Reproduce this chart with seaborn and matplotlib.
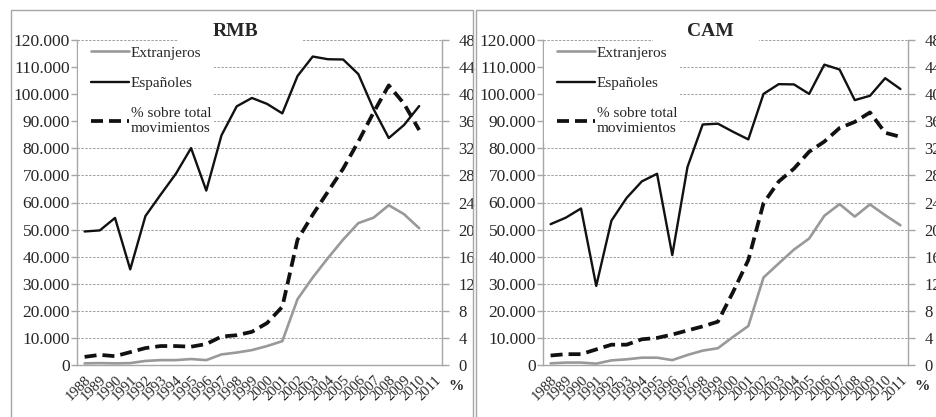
import matplotlib
matplotlib.use('Agg')
import matplotlib.pyplot as plt
from matplotlib.patches import Rectangle
from matplotlib.ticker import FuncFormatter, MultipleLocator
import numpy as np
import pandas as pd
import seaborn as sns

W, H = 936, 417

years = [1988, 1989, 1990, 1991, 1992, 1993, 1994, 1995, 1996, 1997, 1998, 1999,
         2000, 2001, 2002, 2003, 2004, 2005, 2006, 2007, 2008, 2009, 2010, 2011]

# RMB: no data for 2011
rmb_extranjeros = [600, 700, 600, 700, 1500, 1800, 1800, 2200, 1800, 3900, 4600, 5500,
                   7000, 8800, 24300, 32300, 39500, 46300, 52400, 54400, 59000, 55700, 50500]
rmb_espanoles = [49300, 49700, 54300, 35300, 55000, 62900, 70600, 80100, 64400, 84800, 95500, 98600,
                 96400, 92900, 106700, 113900, 112900, 112800, 107400, 94500, 83800, 88600, 95600]
rmb_pct = [1.2, 1.5, 1.3, 1.9, 2.5, 2.8, 2.8, 2.7, 3.1, 4.2, 4.4, 4.9,
           6.2, 8.6, 18.5, 22.2, 25.6, 29.0, 33.0, 37.3, 41.3, 38.6, 34.7]

cam_extranjeros = [600, 900, 900, 500, 1700, 2100, 2700, 2700, 1800, 3700, 5300, 6200,
                   10400, 14400, 32300, 37500, 42600, 46700, 55100, 59400, 54800, 59300, 55300, 51600]
cam_espanoles = [52000, 54400, 57800, 29200, 53300, 61700, 67800, 70600, 40600, 73100, 88800, 89100,
                 86100, 83300, 100100, 103700, 103600, 100100, 110900, 109100, 97800, 99400, 105900, 101900]
cam_pct = [1.4, 1.6, 1.6, 2.3, 3.0, 3.0, 3.8, 4.0, 4.5, 5.1, 5.7, 6.4,
           10.8, 15.5, 23.9, 27.1, 29.0, 31.5, 33.0, 35.0, 35.9, 37.3, 34.3, 33.7]

GRAY_AXIS = '#a6a6a6'
GRAY_LINE = '#999999'
TEXT = '#262626'


def fx(x):
    return x / W


def fy(y):
    return 1 - y / H


def thousands(v, _):
    return f'{int(round(v)):,}'.replace(',', '.')


def draw_panel(fig, left_px, title, title_x, title_box, ext, esp, pct):
    ax = fig.add_axes([fx(left_px), fy(365), 365 / W, 325 / H])
    ax2 = ax.twinx()

    n = len(ext)
    df = pd.DataFrame({'year': years[:n], 'ext': ext, 'esp': esp, 'pct': pct})

    sns.lineplot(data=df, x='year', y='ext', ax=ax, color=GRAY_LINE, linewidth=1.9,
                 label='Extranjeros', legend=False)
    sns.lineplot(data=df, x='year', y='esp', ax=ax, color='#111111', linewidth=1.7,
                 label='Españoles', legend=False)
    sns.lineplot(data=df, x='year', y='pct', ax=ax2, color='#111111', linewidth=2.7,
                 linestyle=(0, (3.2, 1.6)), label='% sobre total\nmovimientos', legend=False)

    ax.set_xlim(1987.5, 2011.5)
    ax.set_ylim(0, 120000)
    ax2.set_ylim(0, 48)
    ax.yaxis.set_major_locator(MultipleLocator(10000))
    ax.yaxis.set_major_formatter(FuncFormatter(thousands))
    ax2.yaxis.set_major_locator(MultipleLocator(4))

    ax.set_xticks(np.arange(1987.5, 2012, 1))
    ax.set_xticks(years, [str(y) for y in years], minor=True)
    ax.tick_params(axis='x', which='major', length=5, width=1, color=GRAY_AXIS,
                   direction='out', labelbottom=False)
    ax.tick_params(axis='x', which='minor', length=0, pad=6, labelsize=10.5, labelcolor=TEXT)
    for lab in ax.get_xticklabels(minor=True):
        lab.set_rotation(45)
        lab.set_ha('right')
        lab.set_va('top')
        lab.set_rotation_mode('anchor')

    ax.tick_params(axis='y', length=4, width=1, color=GRAY_AXIS, direction='out',
                   pad=1, labelsize=12.5, labelcolor=TEXT)
    ax2.tick_params(axis='y', length=5, width=1, color=GRAY_AXIS, direction='out',
                    pad=7, labelsize=12, labelcolor=TEXT)

    ax.set_xlabel('')
    ax.set_ylabel('')
    ax2.set_ylabel('')

    ax.grid(False)
    ax2.grid(False)
    ax.yaxis.grid(True, color='#a0a0a0', linestyle=(0, (2.5, 1.5)), linewidth=0.7)
    ax.set_axisbelow(True)

    for side in ['top', 'right']:
        ax.spines[side].set_visible(False)
    for side in ['left', 'bottom']:
        ax.spines[side].set_color(GRAY_AXIS)
        ax.spines[side].set_linewidth(1)
    for side in ['top', 'left', 'bottom']:
        ax2.spines[side].set_visible(False)
    ax2.spines['right'].set_color(GRAY_AXIS)
    ax2.spines['right'].set_linewidth(1)

    # white boxes behind the legend and the title, as in the spreadsheet chart
    fig.add_artist(Rectangle((fx(left_px + 0.5), fy(143)), 136 / W, 99 / H,
                             transform=fig.transFigure, facecolor='white',
                             edgecolor='none', zorder=2))
    bx0, bx1 = title_box
    fig.add_artist(Rectangle((fx(bx0), fy(47)), (bx1 - bx0) / W, 27 / H,
                             transform=fig.transFigure, facecolor='white',
                             edgecolor='none', zorder=2))

    h1, l1 = ax.get_legend_handles_labels()
    h2, l2 = ax2.get_legend_handles_labels()
    fig.legend(h1 + h2, l1 + l2, loc='upper left',
               bbox_to_anchor=(fx(left_px + 11), fy(43)), bbox_transform=fig.transFigure,
               borderaxespad=0, borderpad=0.2, handlelength=2.5, handletextpad=0.1,
               labelspacing=1.1, fontsize=11, frameon=False, labelcolor=TEXT)

    fig.text(fx(title_x), fy(32), title, ha='center', va='center', fontsize=14,
             fontweight='bold', color=TEXT, zorder=3)
    fig.text(fx(left_px + 379), fy(387), '%', ha='center', va='center', fontsize=11,
             fontweight='bold', color=TEXT)
    return ax, ax2


sns.set_style('white')
plt.rcParams['font.family'] = ['Liberation Serif', 'DejaVu Serif']

fig = plt.figure(figsize=(W / 100, H / 100), dpi=100)

# chart-area borders
fig.add_artist(Rectangle((fx(11), -0.05), (473 - 11) / W, fy(10) + 0.05,
                         transform=fig.transFigure, fill=False, edgecolor=GRAY_AXIS, lw=1))
fig.add_artist(Rectangle((fx(476), -0.05), (960 - 476) / W, fy(10) + 0.05,
                         transform=fig.transFigure, fill=False, edgecolor=GRAY_AXIS, lw=1))

draw_panel(fig, 77, 'RMB', 235, (178, 302), rmb_extranjeros, rmb_espanoles, rmb_pct)
draw_panel(fig, 543, 'CAM', 710, (653, 759), cam_extranjeros, cam_espanoles, cam_pct)

fig.savefig('out.png', dpi=100)
